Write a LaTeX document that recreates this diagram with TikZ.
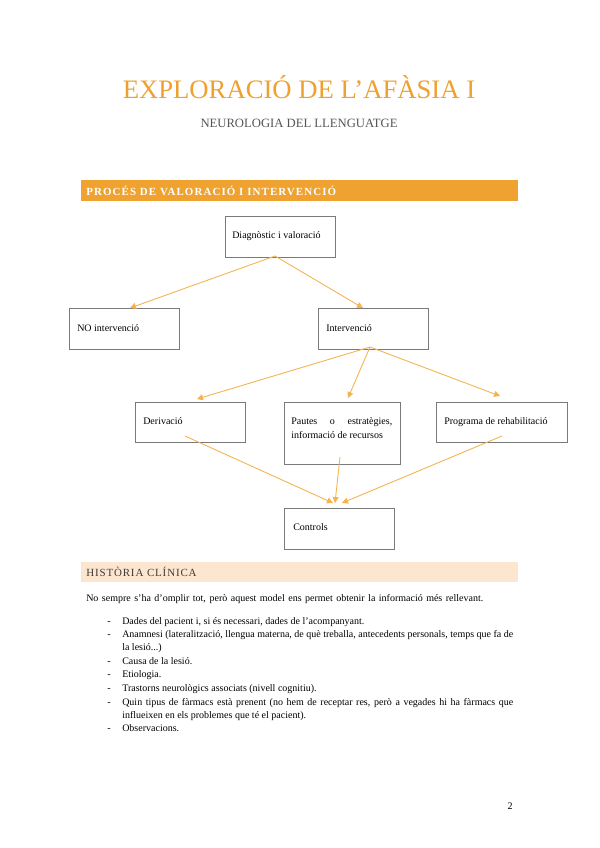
\documentclass[tikz,border=0pt]{standalone}
\usepackage{fontspec}
\setmainfont{Liberation Serif}
\usetikzlibrary{arrows.meta,calc}
\definecolor{titleorange}{HTML}{EFA02E}
\definecolor{bannerorange}{HTML}{EFA230}
\definecolor{arrowc}{HTML}{F5B24E}
\definecolor{peach}{HTML}{FCE6CF}
\definecolor{boxgray}{HTML}{7A7A7A}
\definecolor{subgray}{HTML}{555555}
\definecolor{histc}{HTML}{3F3A36}
\begin{document}
\begin{tikzpicture}[x=0.75pt,y=-0.75pt,
  box/.style={draw=boxgray, line width=1.1pt, rectangle, inner sep=0pt, anchor=north west},
  btxt/.style={inner sep=0pt, anchor=west, font=\fontsize{7.5pt}{9pt}\selectfont, text height=5.2pt, text depth=1.5pt},
  body/.style={inner sep=0pt, anchor=west, font=\fontsize{7.5pt}{9pt}\selectfont, text height=5.2pt, text depth=1.5pt},
  arr/.style={draw=arrowc, line width=0.65pt, -{Triangle[length=4.5pt,width=4.5pt]}}]
\useasboundingbox (0,0) rectangle (599,848);
\fill[white] (0,0) rectangle (599,848);

% titles
\node[inner sep=0pt, text=titleorange, font=\fontsize{20pt}{24pt}\selectfont] (title) at (299,87) {EXPLORACIÓ DE L’AFÀSIA I};
\node[inner sep=0pt, text=subgray, font=\fontsize{9.5pt}{11pt}\selectfont] (subtitle) at (299,123) {NEUROLOGIA DEL LLENGUATGE};

% banner
\fill[bannerorange] (81,180) rectangle (518,201);
\node[inner sep=0pt, anchor=west, text=white, font=\fontsize{8.2pt}{10pt}\selectfont\bfseries\addfontfeature{LetterSpace=10}] (banner) at (86,190.5) {PROCÉS DE VALORACIÓ I INTERVENCIÓ};

% boxes
\node[box, minimum width=82.5pt, minimum height=30.75pt] (diag) at (225,216) {};
\node[btxt] (diagt) at ($(diag.north west)+(7,20)$) {Diagnòstic i valoració};
\node[box, minimum width=82.5pt, minimum height=30.75pt] (noint) at (69,308) {};
\node[btxt] (nointt) at ($(noint.north west)+(8,21)$) {NO intervenció};
\node[box, minimum width=82.5pt, minimum height=30.75pt] (inter) at (318,308) {};
\node[btxt] (intert) at ($(inter.north west)+(8,21)$) {Intervenció};
\node[box, minimum width=82.5pt, minimum height=30pt] (deriv) at (135,402) {};
\node[btxt] (derivt) at ($(deriv.north west)+(8,20)$) {Derivació};
\node[box, minimum width=87pt, minimum height=46.5pt] (paut) at (284,402) {};
\node[btxt] (pautt1) at ($(paut.north west)+(7,20)$) {\makebox[75.75pt][s]{Pautes o estratègies,}};
\node[btxt] (pautt2) at ($(paut.north west)+(7,34)$) {informació de recursos};
\node[box, minimum width=98.25pt, minimum height=30pt] (prog) at (436,402) {};
\node[btxt] (progt) at ($(prog.north west)+(8,20)$) {Programa de rehabilitació};
\node[box, minimum width=82.5pt, minimum height=30.75pt] (contr) at (284,508) {};
\node[btxt] (contrt) at ($(contr.north west)+(9,20)$) {Controls};

% connector endpoints
\coordinate (d0) at (275,256);
\coordinate (n1) at (130,308);
\coordinate (i1) at (363,308);
\coordinate (i0) at (370,347);
\coordinate (de1) at (197,399);
\coordinate (pa1) at (348,398);
\coordinate (pr1) at (500,396);
\coordinate (de0) at (185,436);
\coordinate (pa0) at (340,457);
\coordinate (pr0) at (502,436);
\coordinate (c1) at (333,503);
\coordinate (c2) at (335,503);
\coordinate (c3) at (342,503);

\draw[arr] (d0) -- (n1);
\draw[arr] (d0) -- (i1);
\draw[arr] (i0) -- (de1);
\draw[arr] (i0) -- (pa1);
\draw[arr] (i0) -- (pr1);
\draw[arr] (de0) -- (c1);
\draw[arr] (pa0) -- (c2);
\draw[arr] (pr0) -- (c3);

% historia clinica
\fill[peach] (81,562) rectangle (518,582);
\node[inner sep=0pt, anchor=west, text=histc, font=\fontsize{8.2pt}{10pt}\selectfont\addfontfeature{LetterSpace=8}] (hist) at (86,572) {HISTÒRIA CLÍNICA};

\node[body] (intro) at (86,599) {\makebox[297.75pt][s]{No sempre s’ha d’omplir tot, però aquest model ens permet obtenir la informació més rellevant.}};

\foreach \yy/\nm in {622/b1,635/b2,662/b3,675/b4,689/b5,703/b6,729/b7}{
  \node[body] (\nm) at (107,\yy) {-};
}
\node[body] (t1) at (122,622) {Dades del pacient i, si és necessari, dades de l’acompanyant.};
\node[body] (t2) at (122,635) {\makebox[293.25pt][s]{Anamnesi (lateralització, llengua materna, de què treballa, antecedents personals, temps que fa de}};
\node[body] (t2b) at (122,648) {la lesió...)};
\node[body] (t3) at (122,662) {Causa de la lesió.};
\node[body] (t4) at (122,675) {Etiologia.};
\node[body] (t5) at (122,689) {Trastorns neurològics associats (nivell cognitiu).};
\node[body] (t6) at (122,703) {\makebox[293.25pt][s]{Quin tipus de fàrmacs està prenent (no hem de receptar res, però a vegades hi ha fàrmacs que}};
\node[body] (t6b) at (122,716) {influeixen en els problemes que té el pacient).};
\node[body] (t7) at (122,729) {Observacions.};

\node[inner sep=0pt, font=\fontsize{7.5pt}{9pt}\selectfont] (pnum) at (510,806) {2};
\end{tikzpicture}
\end{document}
